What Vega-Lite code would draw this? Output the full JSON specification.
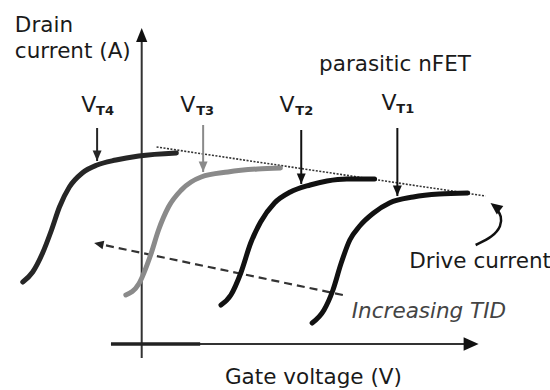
{
  "$schema": "https://vega.github.io/schema/vega-lite/v6.json",
  "width": 550,
  "height": 390,
  "autosize": {"type": "fit", "contains": "padding"},
  "padding": 0,
  "background": "white",
  "config": {"view": {"stroke": null}, "font": "DejaVu Sans"},
  "datasets": {
    "curves": [
      {"name": "VT4", "v": 23, "i": 108}, {"name": "VT4", "v": 33, "i": 118}, {"name": "VT4", "v": 43, "i": 137}, {"name": "VT4", "v": 52, "i": 160}, {"name": "VT4", "v": 60, "i": 183}, {"name": "VT4", "v": 70, "i": 203}, {"name": "VT4", "v": 83, "i": 217}, {"name": "VT4", "v": 98, "i": 225}, {"name": "VT4", "v": 117, "i": 230}, {"name": "VT4", "v": 140, "i": 234}, {"name": "VT4", "v": 178, "i": 237},
      {"name": "VT3", "v": 127, "i": 95}, {"name": "VT3", "v": 140, "i": 106}, {"name": "VT3", "v": 152, "i": 135}, {"name": "VT3", "v": 160, "i": 160}, {"name": "VT3", "v": 170, "i": 183}, {"name": "VT3", "v": 183, "i": 200}, {"name": "VT3", "v": 203, "i": 213}, {"name": "VT3", "v": 230, "i": 218}, {"name": "VT3", "v": 260, "i": 221}, {"name": "VT3", "v": 283, "i": 222},
      {"name": "VT2", "v": 223, "i": 85}, {"name": "VT2", "v": 233, "i": 95}, {"name": "VT2", "v": 243, "i": 117}, {"name": "VT2", "v": 253, "i": 147}, {"name": "VT2", "v": 263, "i": 168}, {"name": "VT2", "v": 277, "i": 187}, {"name": "VT2", "v": 293, "i": 198}, {"name": "VT2", "v": 313, "i": 205}, {"name": "VT2", "v": 330, "i": 209}, {"name": "VT2", "v": 350, "i": 211}, {"name": "VT2", "v": 378, "i": 211},
      {"name": "VT1", "v": 315, "i": 67}, {"name": "VT1", "v": 327, "i": 80}, {"name": "VT1", "v": 336, "i": 100}, {"name": "VT1", "v": 344, "i": 126}, {"name": "VT1", "v": 353, "i": 150}, {"name": "VT1", "v": 363, "i": 164}, {"name": "VT1", "v": 377, "i": 177}, {"name": "VT1", "v": 393, "i": 187}, {"name": "VT1", "v": 417, "i": 193}, {"name": "VT1", "v": 443, "i": 196}, {"name": "VT1", "v": 472, "i": 197}
    ],
    "vtArrows": [
      {"name": "VT4", "v": 98, "i": 262, "tip": 229},
      {"name": "VT3", "v": 205, "i": 265, "tip": 218},
      {"name": "VT2", "v": 304, "i": 260, "tip": 206},
      {"name": "VT1", "v": 401, "i": 262, "tip": 194}
    ]
  },
  "layer": [
    {
      "data": {"values": [
        {"part": "y axis", "v": 143, "i": 32, "v2": 143, "i2": 350},
        {"part": "x axis", "v": 112, "i": 46, "v2": 472, "i2": 46}
      ]},
      "mark": {"type": "rule", "color": "#333333", "strokeWidth": 2},
      "encoding": {
        "x": {"field": "v", "type": "quantitative", "scale": {"domain": [0, 550], "nice": false, "zero": false}, "axis": null},
        "y": {"field": "i", "type": "quantitative", "scale": {"domain": [0, 390], "nice": false, "zero": false}, "axis": null},
        "x2": {"field": "v2"},
        "y2": {"field": "i2"}
      }
    },
    {
      "data": {"values": [{"part": "x axis base", "v": 112, "i": 46, "v2": 202, "i2": 46}]},
      "mark": {"type": "rule", "color": "#222222", "strokeWidth": 3.5},
      "encoding": {
        "x": {"field": "v", "type": "quantitative", "axis": null},
        "y": {"field": "i", "type": "quantitative", "axis": null},
        "x2": {"field": "v2"},
        "y2": {"field": "i2"}
      }
    },
    {
      "data": {"values": [{"part": "drive current", "v": 158, "i": 243, "v2": 490, "i2": 194}]},
      "mark": {"type": "rule", "color": "#333333", "strokeWidth": 1.6, "strokeDash": [2, 1.5]},
      "encoding": {
        "x": {"field": "v", "type": "quantitative", "axis": null},
        "y": {"field": "i", "type": "quantitative", "axis": null},
        "x2": {"field": "v2"},
        "y2": {"field": "i2"}
      }
    },
    {
      "data": {"values": [{"part": "increasing TID", "v": 346, "i": 95, "v2": 100, "i2": 146}]},
      "mark": {"type": "rule", "color": "#333333", "strokeWidth": 2.2, "strokeDash": [8, 5]},
      "encoding": {
        "x": {"field": "v", "type": "quantitative", "axis": null},
        "y": {"field": "i", "type": "quantitative", "axis": null},
        "x2": {"field": "v2"},
        "y2": {"field": "i2"}
      }
    },
    {
      "data": {"name": "curves"},
      "mark": {"type": "line", "strokeWidth": 5, "strokeCap": "round", "interpolate": "monotone"},
      "encoding": {
        "x": {"field": "v", "type": "quantitative", "axis": null},
        "y": {"field": "i", "type": "quantitative", "axis": null},
        "color": {"field": "name", "type": "nominal", "scale": {"domain": ["VT1", "VT2", "VT3", "VT4"], "range": ["#111111", "#111111", "#8a8a8a", "#262626"]}, "legend": null}
      }
    },
    {
      "data": {"name": "vtArrows"},
      "mark": {"type": "rule", "strokeWidth": 2},
      "encoding": {
        "x": {"field": "v", "type": "quantitative", "axis": null},
        "y": {"field": "i", "type": "quantitative", "axis": null},
        "y2": {"field": "tip"},
        "color": {"field": "name", "type": "nominal", "legend": null}
      }
    },
    {
      "data": {"name": "vtArrows"},
      "mark": {"type": "point", "shape": "M0,0L-0.85,2L0.85,2Z", "filled": true, "opacity": 1, "size": 110, "angle": 180},
      "encoding": {
        "x": {"field": "v", "type": "quantitative", "axis": null},
        "y": {"field": "tip", "type": "quantitative", "axis": null},
        "color": {"field": "name", "type": "nominal", "legend": null}
      }
    },
    {
      "data": {"values": [{"part": "y axis", "v": 143, "i": 362}]},
      "mark": {"type": "point", "shape": "M0,0L-0.8,2L0.8,2Z", "filled": true, "opacity": 1, "size": 196, "angle": 0, "color": "#111111"},
      "encoding": {
        "x": {"field": "v", "type": "quantitative", "axis": null},
        "y": {"field": "i", "type": "quantitative", "axis": null}
      }
    },
    {
      "data": {"values": [{"part": "x axis", "v": 483, "i": 46}]},
      "mark": {"type": "point", "shape": "M0,0L-0.9,2L0.9,2Z", "filled": true, "opacity": 1, "size": 225, "angle": 90, "color": "#111111"},
      "encoding": {
        "x": {"field": "v", "type": "quantitative", "axis": null},
        "y": {"field": "i", "type": "quantitative", "axis": null}
      }
    },
    {
      "data": {"values": [{"part": "increasing TID", "v": 95, "i": 147}]},
      "mark": {"type": "point", "shape": "M0,0L-0.9,2L0.9,2Z", "filled": true, "opacity": 1, "size": 90, "angle": 282, "color": "#222222"},
      "encoding": {
        "x": {"field": "v", "type": "quantitative", "axis": null},
        "y": {"field": "i", "type": "quantitative", "axis": null}
      }
    },
    {
      "data": {"values": [
        {"k": 1, "v": 480, "i": 145}, {"k": 2, "v": 497, "i": 153}, {"k": 3, "v": 506, "i": 164}, {"k": 4, "v": 506, "i": 174}, {"k": 5, "v": 502, "i": 180}
      ]},
      "mark": {"type": "line", "interpolate": "basis", "strokeWidth": 2.5, "color": "#111111"},
      "encoding": {
        "x": {"field": "v", "type": "quantitative", "axis": null},
        "y": {"field": "i", "type": "quantitative", "axis": null},
        "order": {"field": "k", "type": "quantitative"}
      }
    },
    {
      "data": {"values": [{"part": "drive current", "v": 495, "i": 187}]},
      "mark": {"type": "point", "shape": "M0,0L-0.9,2L0.9,2Z", "filled": true, "opacity": 1, "size": 144, "angle": 307, "color": "#111111"},
      "encoding": {
        "x": {"field": "v", "type": "quantitative", "axis": null},
        "y": {"field": "i", "type": "quantitative", "axis": null}
      }
    },
    {
      "data": {"values": [
        {"text": "Drain", "v": 15, "i": 358},
        {"text": "current (A)", "v": 15, "i": 332},
        {"text": "parasitic nFET", "v": 322, "i": 319},
        {"text": "Drive current", "v": 413, "i": 122},
        {"text": "Gate voltage (V)", "v": 227, "i": 6}
      ]},
      "mark": {"type": "text", "align": "left", "baseline": "alphabetic", "fontSize": 21.5, "color": "#1a1a1a"},
      "encoding": {
        "x": {"field": "v", "type": "quantitative", "axis": null},
        "y": {"field": "i", "type": "quantitative", "axis": null},
        "text": {"field": "text"}
      }
    },
    {
      "data": {"values": [{"text": "Increasing TID", "v": 355, "i": 72}]},
      "mark": {"type": "text", "align": "left", "baseline": "alphabetic", "fontSize": 21.5, "fontStyle": "italic", "color": "#444444"},
      "encoding": {
        "x": {"field": "v", "type": "quantitative", "axis": null},
        "y": {"field": "i", "type": "quantitative", "axis": null},
        "text": {"field": "text"}
      }
    },
    {
      "data": {"values": [
        {"text": "V", "v": 82, "i": 278},
        {"text": "V", "v": 182, "i": 278},
        {"text": "V", "v": 282, "i": 278},
        {"text": "V", "v": 385, "i": 280}
      ]},
      "mark": {"type": "text", "align": "left", "baseline": "alphabetic", "fontSize": 22, "color": "#1a1a1a"},
      "encoding": {
        "x": {"field": "v", "type": "quantitative", "axis": null},
        "y": {"field": "i", "type": "quantitative", "axis": null},
        "text": {"field": "text"}
      }
    },
    {
      "data": {"values": [
        {"text": "T4", "v": 97, "i": 275},
        {"text": "T3", "v": 198, "i": 275},
        {"text": "T2", "v": 298, "i": 275},
        {"text": "T1", "v": 400, "i": 277}
      ]},
      "mark": {"type": "text", "align": "left", "baseline": "alphabetic", "fontSize": 13, "fontWeight": "bold", "color": "#1a1a1a"},
      "encoding": {
        "x": {"field": "v", "type": "quantitative", "axis": null},
        "y": {"field": "i", "type": "quantitative", "axis": null},
        "text": {"field": "text"}
      }
    }
  ]
}
